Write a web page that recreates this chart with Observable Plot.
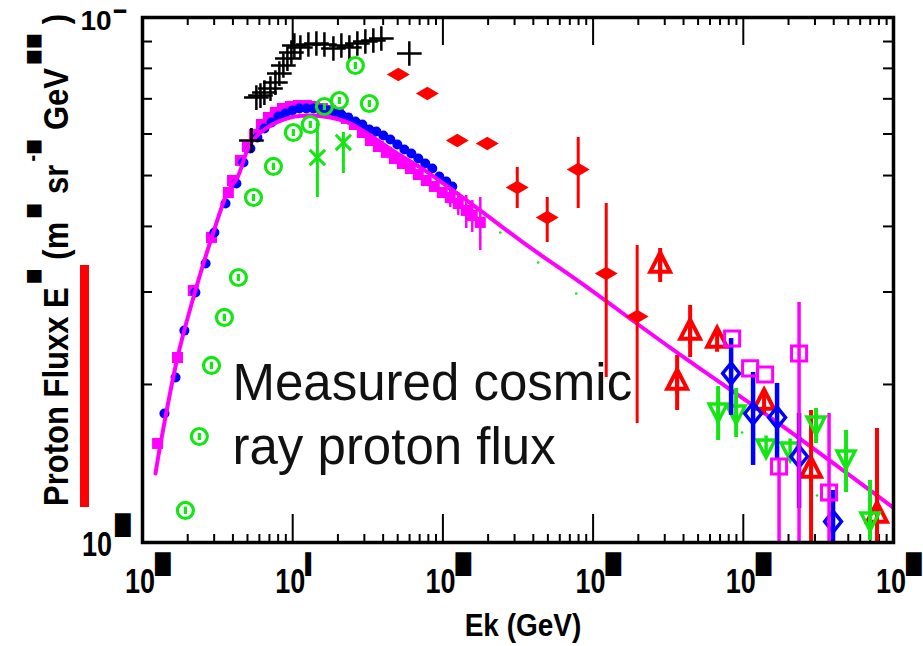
<!DOCTYPE html>
<html><head><meta charset="utf-8">
<script src="https://cdn.jsdelivr.net/npm/d3@7"></script>
<script src="https://cdn.jsdelivr.net/npm/@observablehq/plot@0.6"></script>
<style>
html,body{margin:0;padding:0;background:#fff;}
#chart{position:relative;width:923px;height:646px;overflow:hidden;}
</style></head><body><div id="chart"></div>
<script>
// ---------- data (E in GeV, F = E^2.7 x flux) ----------
const blueE = [1.40,1.66,1.90,2.25,2.63,3.01,3.57,4.22,4.70,5.23,5.82,6.48,7.22,8.03,8.94,9.95,11.08,12.34,13.73,15.29,17.02,18.94,21.09,23.48,26.14,29.09,32.38,36.06,40.13,44.67,49.74,55.37,61.64,68.6,76.37,85.0,94.6,105.3,115.5];
const blueF = [1761,2062,2533,2994,3400,3894,4423,4829,5296,5629,5908,6146,6310,6479,6565,6652,6710,6710,6710,6681,6652,6622,6535,6450,6338,6255,6119,6066,5960,5856,5729,5605,5508,5388,5271,5157,4980,4872,4766];

const magSqE = [1.26,1.71,2.18,2.88,3.73,3.97,4.49,4.99,5.56,6.19,6.89,7.67,8.54,9.65,10.91,12.34,13.94,15.76,17.82,20.14,22.77,25.74,29.09,32.89,37.17,42.02,47.51,53.7,60.7,68.6,77.5,87.7,99.1,112,126.6,143.1,156.9,177.4];
const magSqF = [1544,2251,3020,3811,4642,4892,5343,5679,5987,6255,6450,6596,6710,6768,6798,6798,6768,6710,6652,6565,6422,6255,6039,5831,5679,5534,5388,5271,5157,5023,4892,4766,4642,4541,4423,4290,4197,4070];
const magSqErrE = [112,126.6,143.1,156.9,177.4];
const magSqErrLo = [4346,4197,3963,3894,3599];
const magSqErrHi = [4725,4642,4581,4481,4541];

const fitE = [1.22,1.32,1.71,2.25,2.92,3.73,4.29,5.23,6.79,9.65,13.1,17.8,24.2,34.4,49.7,70.7,100.6,177,364,821,3258,17570,99240];
const fitF = [1353,1544,2251,3020,3844,4683,4958,5754,6174,6450,6507,6450,6282,5908,5508,5181,4829,4290,3679,3128,2351,1678,1166];

const greenCircE = [1.93,2.39,2.88,3.51,4.35,5.48,7.44,10.1,13.1,16.26,20.45,26.14,32.38];
const greenCircF = [1151,1592,2174,2683,3197,4541,5203,6039,6255,6768,6949,8101,6858];

const greenXE = [14.6,21.75];
const greenXF = [5412,5781];
const greenXLo = [4541,5045];
const greenXHi = [6282,6039];

const blackE = [5.31,5.73,6.10,6.48,7.11,7.67,8.15,8.67,9.22,9.80,10.26,11.25,12.72,14.38,16.26,18.66,21.09,23.84,26.95,30.46,34.43,38.92,59.76];
const blackF = [5831,7040,7102,7196,7323,7518,7821,8101,8353,8577,8844,8767,8884,8922,8884,8729,8844,8767,8922,9001,9040,9120,8539];
const blackErrE = [5.31];
const blackErrLo = [5534];
const blackErrHi = [6146];

const redDiaE = [50.5,78.8,124.7,197.4,312.6,495,796,1223,1965];
const redDiaF = [7788,7164,5831,5754,4746,4159,5134,3253,2695];
const redDiaLo = [null,null,null,null,4327,3728,4327,2062,1685];
const redDiaHi = [null,null,null,null,5181,4541,5908,4423,3679];

const redTriE = [2796,4426,3627,6694,13750,28260,77670];
const redTriF = [3400,2533,2035,2446,1864,1384,1136];
const redTriLo = [3128,2251,1784,null,null,900,900];
const redTriHi = [3631,2828,2271,null,null,1784,1648];

const greenTriE = [6797,8959,14180,20490,30500,48310,69780];
const greenTriF = [1776,1761,1517,1497,1678,1445,1101];
const greenTriLo = [1564,1585,null,null,1544,1245,1009];
const greenTriHi = [1982,1965,null,null,1800,1634,1313];

const blueDiaE = [8295,11620,16780,23510,39580];
const blueDiaF = [2099,1761,1730,1458,1096];
const blueDiaLo = [1746,1402,1433,1161,990];
const blueDiaHi = [2446,2108,2009,1761,1256];

const magOpenE = [8424,11100,13970,17300,23510,37230];
const magOpenF = [2446,2146,2089,1396,2291,1245];
const magOpenLo = [null,null,null,900,900,900];
const magOpenHi = [null,null,null,1445,2865,1761];

const tinyGreenE = [241,431,772,9817,30970];
const tinyGreenF = [3894,3415,2981,1620,1229];

// ---------- ticks & labels ----------
const xTickValues = [1,10,100,1000,10000,100000];
const xTickLabels = ["10","10","10","10","10","10"];
const xTickExps = ["█","▍","█","█","█","█"];
const xMajorTicks = [10,100,1000,10000];
const yTickValues = [1000,10000];
const yTickLabels = ["10","10"];
const yTickExps = ["█","━"];
const yMinorTicks = [2000,3000,4000,5000,6000,7000,8000,9000];
const xLabel = "Ek (GeV)";
const yLabelParts = [["Proton Fluxx E",false],["■",true],[" (m",false],["■",true],[" sr",false],["-■",true],[" GeV",false],["■■",true],[" )",false]];
const caption = "Measured cosmic\nray proton flux";

(function(){
const pts = (E,F) => E.map((e,i)=>({E:e,F:F[i]}));
const errs = (E,lo,hi) => E.map((e,i)=>({E:e,lo:lo[i],hi:hi[i]})).filter(d=>d.lo!=null);

const BLUE="#0000ff", MAG="#ff00ff", GREEN="#14e614", RED="#ff0000";

const rOf = size => Math.sqrt(size/Math.PI);
const symPhi = {draw(c,s){const r=rOf(s);c.moveTo(r,0);c.arc(0,0,r,0,2*Math.PI);c.moveTo(0,-r*0.45);c.lineTo(0,r*0.45);}};
const symTriUpBar = {draw(c,s){const r=rOf(s);c.moveTo(0,-r);c.lineTo(r*0.9,r*0.75);c.lineTo(-r*0.9,r*0.75);c.closePath();c.moveTo(0,-r);c.lineTo(0,r*1.2);}};
const symTriDownBar = {draw(c,s){const r=rOf(s);c.moveTo(0,r);c.lineTo(r*0.9,-r*0.75);c.lineTo(-r*0.9,-r*0.75);c.closePath();c.moveTo(0,r);c.lineTo(0,-r*1.2);}};
const symFlatDia = {draw(c,s){const r=rOf(s);c.moveTo(-1.35*r,0);c.lineTo(0,-0.8*r);c.lineTo(1.35*r,0);c.lineTo(0,0.8*r);c.closePath();}};
const symTallDia = {draw(c,s){const r=rOf(s);c.moveTo(-0.8*r,0);c.lineTo(0,-r);c.lineTo(0.8*r,0);c.lineTo(0,r);c.closePath();}};

const xMinorTicks = d3.scaleLog().domain([1,1e5]).ticks().filter(v => !xTickValues.includes(v));

const plot = Plot.plot({
  width: 923, height: 646,
  marginLeft: 142, marginRight: 30, marginTop: 17, marginBottom: 104,
  x: {type:"log", domain:[1,1e5], axis:null},
  y: {type:"log", domain:[1000,10000], axis:null},
  style: {background:"white", overflow:"visible"},
  marks: [
    Plot.tickX(xMinorTicks, {x:d=>d, insetTop:517, stroke:"black", strokeWidth:2}),
    Plot.tickX(xMinorTicks, {x:d=>d, insetBottom:517, stroke:"black", strokeWidth:2}),
    Plot.tickX(xMajorTicks, {x:d=>d, insetTop:497, stroke:"black", strokeWidth:2}),
    Plot.tickX(xMajorTicks, {x:d=>d, insetBottom:497, stroke:"black", strokeWidth:2}),
    Plot.tickY(yMinorTicks, {y:d=>d, insetRight:741, stroke:"black", strokeWidth:2}),
    Plot.tickY(yMinorTicks, {y:d=>d, insetLeft:741, stroke:"black", strokeWidth:2}),

    Plot.ruleX(errs(magSqErrE,magSqErrLo,magSqErrHi), {x:"E", y1:"lo", y2:"hi", stroke:MAG, strokeWidth:2.5, clip:true}),
    Plot.dot(pts(magSqE,magSqF), {x:"E", y:"F", symbol:"square", r:6.2, fill:MAG, clip:true}),
    Plot.dot(pts(blueE,blueF), {x:"E", y:"F", r:5, fill:BLUE, clip:true}),
    Plot.line(pts(fitE,fitF), {x:"E", y:"F", stroke:MAG, strokeWidth:4, curve:"catmull-rom", clip:true}),

    Plot.ruleX(errs(blackErrE,blackErrLo,blackErrHi), {x:"E", y1:"lo", y2:"hi", stroke:"black", strokeWidth:2.5, clip:true}),
    Plot.dot(pts(blackE,blackF), {x:"E", y:"F", symbol:"plus", r:8, stroke:"black", strokeWidth:2.5, clip:true}),

    Plot.dot(pts(greenCircE,greenCircF), {x:"E", y:"F", symbol:symPhi, r:8, stroke:GREEN, strokeWidth:3.2, fill:"none", clip:true}),
    Plot.ruleX(errs(greenXE,greenXLo,greenXHi), {x:"E", y1:"lo", y2:"hi", stroke:GREEN, strokeWidth:3, clip:true}),
    Plot.dot(pts(greenXE,greenXF), {x:"E", y:"F", symbol:"times", r:7, stroke:GREEN, strokeWidth:3, clip:true}),

    Plot.ruleX(errs(redDiaE,redDiaLo,redDiaHi), {x:"E", y1:"lo", y2:"hi", stroke:RED, strokeWidth:3, clip:true}),
    Plot.dot(pts(redDiaE,redDiaF), {x:"E", y:"F", symbol:symFlatDia, r:8.5, fill:RED, stroke:"none", clip:true}),
    Plot.dot(pts(tinyGreenE,tinyGreenF), {x:"E", y:"F", r:1.3, fill:GREEN, clip:true}),

    Plot.ruleX(errs(redTriE,redTriLo,redTriHi), {x:"E", y1:"lo", y2:"hi", stroke:RED, strokeWidth:4, clip:true}),
    Plot.dot(pts(redTriE,redTriF), {x:"E", y:"F", symbol:symTriUpBar, r:11, stroke:RED, strokeWidth:4, fill:"none", clip:true}),
    Plot.ruleX(errs(greenTriE,greenTriLo,greenTriHi), {x:"E", y1:"lo", y2:"hi", stroke:GREEN, strokeWidth:4, clip:true}),
    Plot.dot(pts(greenTriE,greenTriF), {x:"E", y:"F", symbol:symTriDownBar, r:10, stroke:GREEN, strokeWidth:3.5, fill:"none", clip:true}),
    Plot.ruleX(errs(blueDiaE,blueDiaLo,blueDiaHi), {x:"E", y1:"lo", y2:"hi", stroke:BLUE, strokeWidth:4.5, clip:true}),
    Plot.dot(pts(blueDiaE,blueDiaF), {x:"E", y:"F", symbol:symTallDia, r:10.5, stroke:BLUE, strokeWidth:3.5, fill:"none", clip:true}),
    Plot.ruleX(errs(magOpenE,magOpenLo,magOpenHi), {x:"E", y1:"lo", y2:"hi", stroke:MAG, strokeWidth:3.5, clip:true}),
    Plot.dot(pts(magOpenE,magOpenF), {x:"E", y:"F", symbol:"square", r:8.5, stroke:MAG, strokeWidth:3, fill:"none", clip:true}),

    Plot.text([caption], {text:d=>d, frameAnchor:"top-left", dx:90, dy:338, lineAnchor:"top", textAnchor:"start", fontSize:51, lineHeight:1.24, fill:"#111", fontFamily:"'Liberation Sans', Arial, sans-serif"}),
    Plot.frame({stroke:"black", strokeWidth:3.5})
  ]
});
document.getElementById("chart").appendChild(plot);

// ---------- axis labels (positions from Plot's scales) ----------
const svg = d3.select(plot);
const sx = plot.scale("x"), sy = plot.scale("y");
const yBottom = sy.apply(1000), xLeft = sx.apply(1);
const g = svg.append("g").attr("fill","black").attr("text-anchor","start");
const BOLD = "'Liberation Sans', Arial, sans-serif";
xTickValues.forEach((v,i)=>{
  const px = sx.apply(v);
  g.append("text").attr("font-family",BOLD).attr("font-weight","bold").attr("font-size",27)
    .attr("text-anchor","middle").attr("transform",`translate(${px-2},${yBottom+51}) scale(1,1.3)`).text(xTickLabels[i]);
  g.append("text").attr("font-family","'DejaVu Sans'").attr("font-size",20).attr("text-anchor","start")
    .attr("transform",`translate(${px+13},${yBottom+29})`).text(xTickExps[i]);
});
{
  const yb = sy.apply(yTickValues[0]);
  g.append("text").attr("font-family",BOLD).attr("font-weight","bold").attr("font-size",27)
    .attr("text-anchor","middle").attr("transform",`translate(${xLeft-45},${yb+14}) scale(1,1.3)`).text(yTickLabels[0]);
  g.append("text").attr("font-family","'DejaVu Sans'").attr("font-size",20).attr("text-anchor","start")
    .attr("transform",`translate(${xLeft-27},${yb-10})`).text(yTickExps[0]);
  const yt = sy.apply(yTickValues[1]);
  g.append("text").attr("font-family",BOLD).attr("font-weight","bold").attr("font-size",28)
    .attr("text-anchor","middle").attr("transform",`translate(${xLeft-46},${yt+13})`).text(yTickLabels[1]);
  g.append("text").attr("font-family","'DejaVu Sans'").attr("font-size",20).attr("text-anchor","start")
    .attr("transform",`translate(${xLeft-28},${yt+1})`).text(yTickExps[1]);
}
g.append("text").attr("font-family",BOLD).attr("font-weight","bold").attr("font-size",28)
  .attr("text-anchor","middle").attr("transform",`translate(523,${yBottom+94}) scale(1,1.1)`).text(xLabel);
{
  const t = g.append("text").attr("font-family",BOLD).attr("font-weight","bold").attr("font-size",31)
    .attr("text-anchor","start").attr("transform",`translate(68,506) rotate(-90) scale(1,1.12)`);
  yLabelParts.forEach(([s,sup],i)=>{
    if (sup) t.append("tspan").attr("font-family","'DejaVu Sans'").attr("font-size",17).attr("dx",3).attr("dy",-26).text(s);
    else t.append("tspan").attr("dy", i===0 ? 0 : 26).text(s);
  });
}
svg.append("rect").attr("x",80).attr("y",265).attr("width",9).attr("height",242).attr("fill",RED);
})();
</script></body></html>
